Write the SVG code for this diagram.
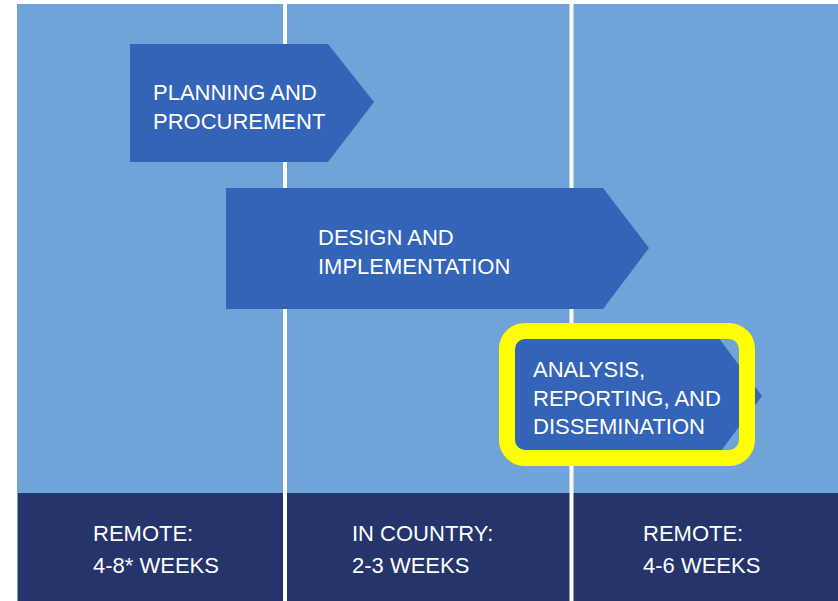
<svg xmlns="http://www.w3.org/2000/svg" width="838" height="601" viewBox="0 0 838 601">
<style>
.bg{fill:#6fa4d9}
.band{fill:#25346a}
.arrow{fill:#3464b7}
.div{stroke:#ffffff;stroke-width:4}
.lbl{font-family:"Liberation Sans",Arial,sans-serif;font-size:22px;fill:#ffffff}
.dur{font-family:"Liberation Sans",Arial,sans-serif;font-size:22px;fill:#ffffff}
.hl{fill:none;stroke:#ffff00;stroke-width:16}
</style>
<rect x="0" y="0" width="838" height="601" fill="#ffffff"/>
<rect class="bg" x="17" y="4" width="821" height="597"/>
<rect class="band" x="18" y="493" width="820" height="108"/>
<g id="dividers">
<line class="div" x1="285" y1="4" x2="285" y2="601"/>
<line class="div" x1="571.5" y1="4" x2="571.5" y2="601"/>
</g>
<g id="planning">
<polygon class="arrow" points="130,44 328,44 374,102 328,162 130,162"/>
<text class="lbl" x="153" y="100">PLANNING AND</text>
<text class="lbl" x="153" y="129">PROCUREMENT</text>
</g>
<g id="design">
<polygon class="arrow" points="226,188 603,188 649,248 603,309 226,309"/>
<text class="lbl" x="318" y="245">DESIGN AND</text>
<text class="lbl" x="318" y="274">IMPLEMENTATION</text>
</g>
<g id="analysis">
<polygon class="arrow" points="505,337 718,337 762,396 718,455 505,455"/>
<rect class="hl" x="507" y="331" width="240" height="127" rx="18" ry="18"/>
<text class="lbl" x="533" y="377">ANALYSIS,</text>
<text class="lbl" x="533" y="406">REPORTING, AND</text>
<text class="lbl" x="533" y="434">DISSEMINATION</text>
</g>
<g id="remote1">
<text class="dur" x="93" y="541">REMOTE:</text>
<text class="dur" x="93" y="573">4-8* WEEKS</text>
</g>
<g id="incountry">
<text class="dur" x="352" y="541">IN COUNTRY:</text>
<text class="dur" x="352" y="573">2-3 WEEKS</text>
</g>
<g id="remote2">
<text class="dur" x="643" y="541">REMOTE:</text>
<text class="dur" x="643" y="573">4-6 WEEKS</text>
</g>
</svg>
